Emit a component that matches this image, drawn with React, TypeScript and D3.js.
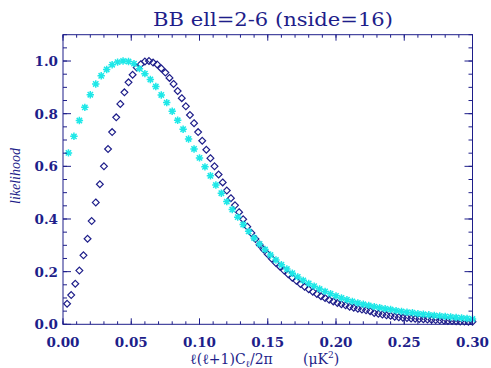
import React from "react";
import * as d3 from "d3";

// Diamond series (navy), sampled every DIAMOND_STEP in x starting at DIAMOND_STEP
const DIAMOND_STEP = 0.003;
const diamondValues = [
  0.078, 0.111, 0.154, 0.204, 0.262, 0.325, 0.392, 0.463, 0.532, 0.600,
  0.666, 0.730, 0.786, 0.837, 0.881, 0.919, 0.948, 0.975, 0.988, 0.998,
  1.000, 0.994, 0.987, 0.972, 0.956, 0.936, 0.913, 0.886, 0.859, 0.828,
  0.795, 0.764, 0.730, 0.697, 0.663, 0.631, 0.600, 0.569, 0.539, 0.508,
  0.479, 0.452, 0.426, 0.399, 0.371, 0.347, 0.324, 0.302, 0.284, 0.266,
  0.249, 0.233, 0.219, 0.204, 0.190, 0.177, 0.165, 0.153, 0.143, 0.133,
  0.124, 0.115, 0.107, 0.100, 0.093, 0.087, 0.081, 0.076, 0.072, 0.067,
  0.063, 0.059, 0.056, 0.053, 0.050, 0.043, 0.040, 0.037, 0.034, 0.032,
  0.029, 0.027, 0.025, 0.024, 0.022, 0.021, 0.020, 0.019, 0.018, 0.017,
  0.016, 0.015, 0.014, 0.013, 0.013, 0.012, 0.011, 0.011, 0.010, 0.010,
];

// Asterisk series (cyan), sampled every STAR_STEP in x starting at STAR_STEP
const STAR_STEP = 0.004;
const starValues = [
  0.651, 0.714, 0.774, 0.824, 0.872, 0.913, 0.944, 0.968, 0.986, 0.996,
  1.000, 0.998, 0.990, 0.971, 0.952, 0.930, 0.903, 0.871, 0.842, 0.809,
  0.775, 0.741, 0.704, 0.666, 0.632, 0.598, 0.564, 0.529, 0.498, 0.466,
  0.436, 0.407, 0.379, 0.353, 0.328, 0.305, 0.284, 0.263, 0.244, 0.226,
  0.210, 0.194, 0.180, 0.167, 0.155, 0.145, 0.134, 0.125, 0.116, 0.108,
  0.100, 0.093, 0.087, 0.081, 0.076, 0.072, 0.067, 0.063, 0.059, 0.056,
  0.052, 0.049, 0.046, 0.044, 0.040, 0.038, 0.036, 0.034, 0.032, 0.030,
  0.028, 0.026, 0.024, 0.022, 0.020,
];

const xTicks = [0, 0.05, 0.1, 0.15, 0.2, 0.25, 0.3];
const xTickLabels = ["0.00", "0.05", "0.10", "0.15", "0.20", "0.25", "0.30"];
const yTicks = [0, 0.2, 0.4, 0.6, 0.8, 1.0];
const yTickLabels = ["0.0", "0.2", "0.4", "0.6", "0.8", "1.0"];

const TITLE = "BB ell=2-6 (nside=16)";
const YLABEL = "likelihood";

const W = 491;
const H = 368;
const NAVY = "#1e1e8a";
const CYAN = "#1ee8e8";

export default function App() {
  const left = 63, right = 472.5, top = 34.7, bottom = 324.3;
  const x = d3.scaleLinear().domain([0, 0.3]).range([left, right]);
  const y = d3.scaleLinear().domain([0, 1.1]).range([bottom, top]);
  const xMinor = x.ticks(30);
  const yMinor = y.ticks(22);

  const diamonds = diamondValues.map((v, i) => ({ x: (i + 1) * DIAMOND_STEP, y: v }));
  const stars = starValues.map((v, i) => ({ x: (i + 1) * STAR_STEP, y: v }));

  const tickFont = { fontFamily: "DejaVu Serif", fontWeight: 700, fontSize: 13.5 } as const;

  const dS = 3.4;
  const sS = 3.7;
  const sD = sS * 0.72;

  return (
    <svg width={W} height={H} style={{ position: "absolute", left: 0, top: 0, background: "#fff" }}>
      <rect x={0} y={0} width={W} height={H} fill="#fff" />
      {/* title */}
      <text x={273} y={26} textAnchor="middle" fill={NAVY} fontFamily="DejaVu Serif" fontSize={19}
        textLength={240} lengthAdjust="spacingAndGlyphs">
        {TITLE}
      </text>

      {/* data: diamonds */}
      <g fill="none" stroke={NAVY} strokeWidth={1.2}>
        {diamonds.map((d, i) => {
          const cx = x(d.x), cy = y(d.y);
          return (
            <path key={i} d={`M${cx},${cy - dS}L${cx + dS},${cy}L${cx},${cy + dS}L${cx - dS},${cy}Z`} />
          );
        })}
      </g>
      {/* data: asterisks */}
      <g stroke={CYAN} strokeWidth={1.5}>
        {stars.map((d, i) => {
          const cx = x(d.x), cy = y(d.y);
          return (
            <path
              key={i}
              d={`M${cx - sS},${cy}L${cx + sS},${cy}M${cx},${cy - sS}L${cx},${cy + sS}M${cx - sD},${cy - sD}L${cx + sD},${cy + sD}M${cx - sD},${cy + sD}L${cx + sD},${cy - sD}`}
            />
          );
        })}
      </g>

      {/* axes box */}
      <rect x={left} y={top} width={right - left} height={bottom - top} fill="none" stroke={NAVY} strokeWidth={1} />

      {/* ticks */}
      <g stroke={NAVY} strokeWidth={1}>
        {xMinor.map((t, i) => (
          <g key={"xm" + i}>
            <line x1={x(t)} x2={x(t)} y1={bottom} y2={bottom - 3} />
            <line x1={x(t)} x2={x(t)} y1={top} y2={top + 3} />
          </g>
        ))}
        {xTicks.map((t, i) => (
          <g key={"xM" + i}>
            <line x1={x(t)} x2={x(t)} y1={bottom} y2={bottom - 6} />
            <line x1={x(t)} x2={x(t)} y1={top} y2={top + 6} />
          </g>
        ))}
        {yMinor.map((t, i) => (
          <g key={"ym" + i}>
            <line x1={left} x2={left + 4} y1={y(t)} y2={y(t)} />
            <line x1={right} x2={right - 4} y1={y(t)} y2={y(t)} />
          </g>
        ))}
        {yTicks.map((t, i) => (
          <g key={"yM" + i}>
            <line x1={left} x2={left + 8} y1={y(t)} y2={y(t)} />
            <line x1={right} x2={right - 8} y1={y(t)} y2={y(t)} />
          </g>
        ))}
      </g>

      {/* x tick labels */}
      {xTicks.map((t, i) => (
        <text key={"xl" + i} x={x(t)} y={347} textAnchor="middle" fill={NAVY} {...tickFont}>
          {xTickLabels[i]}
        </text>
      ))}
      {/* y tick labels */}
      {yTicks.map((t, i) => (
        <text key={"yl" + i} x={58} y={y(t) + 5} textAnchor="end" fill={NAVY} {...tickFont}>
          {yTickLabels[i]}
        </text>
      ))}

      {/* x axis label */}
      <text x={190} y={364} fill={NAVY} fontFamily="DejaVu Serif" fontSize={14}>
        ℓ(ℓ+1)C
        <tspan fontSize={9} dy={3}>ℓ</tspan>
        <tspan dy={-3}>/2π</tspan>
      </text>
      <text x={303} y={364} fill={NAVY} fontFamily="DejaVu Serif" fontSize={14}>
        (μK<tspan fontSize={9} dy={-6}>2</tspan>
        <tspan dy={6}>)</tspan>
      </text>

      {/* y axis label */}
      <text
        transform={`translate(20,176) rotate(-90)`}
        textAnchor="middle"
        fill={NAVY}
        fontFamily="Liberation Serif"
        fontStyle="italic"
        fontSize={14}
      >
        {YLABEL}
      </text>
    </svg>
  );
}
